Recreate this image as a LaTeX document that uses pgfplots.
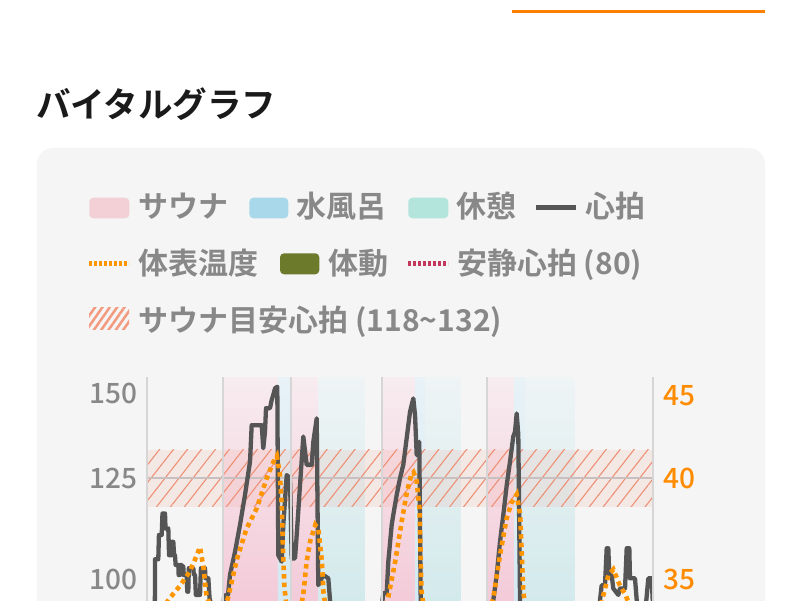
\documentclass[border=0pt]{standalone}
\usepackage{fontspec}
\usepackage{pgfplots}
\usepackage{pgfplotstable}
\pgfplotsset{compat=1.18}
\usetikzlibrary{patterns.meta}
\newfontfamily\cjk{Noto Sans CJK JP}[BoldFont={Noto Sans CJK JP Bold}]
\newfontfamily\cjkmed{Noto Sans CJK JP Medium}

\definecolor{card}{HTML}{F5F5F5}
\definecolor{topline}{HTML}{FF8000}
\definecolor{titleblack}{HTML}{1A1A1A}
\definecolor{leggray}{HTML}{888888}
\definecolor{tickgray}{HTML}{888888}
\definecolor{tickorange}{HTML}{FF8C00}
\definecolor{saunasw}{HTML}{F2D0D5}
\definecolor{watersw}{HTML}{A8D8EA}
\definecolor{restsw}{HTML}{B3E5DC}
\definecolor{olive}{HTML}{6B7B2B}
\definecolor{hrgray}{HTML}{555555}
\definecolor{temporange}{HTML}{FF9500}
\definecolor{restred}{HTML}{C2375B}
\definecolor{hatchsw}{HTML}{F3997E}
\definecolor{saunatop}{HTML}{F7ECF0}
\definecolor{saunabot}{HTML}{F0B0C5}
\definecolor{watertop}{HTML}{E8F2F7}
\definecolor{waterbot}{HTML}{C3E2EF}
\definecolor{resttop}{HTML}{EFF4F5}
\definecolor{restbot}{HTML}{BCE1E4}
\definecolor{bandfill}{HTML}{F0A090}
\definecolor{hatch}{HTML}{EE9075}
\definecolor{gridgray}{HTML}{D6D6D6}
\definecolor{line125}{HTML}{C8C0C0}

% heart rate (minutes, bpm)
\pgfplotstableread{
t hr
0 82
1.0 86
1.5 95
1.52 105
2.17 105
2.3 111
2.85 111
3.0 116.3
3.5 116.3
3.6 112.6
4.15 112.6
4.3 106
4.8 106
4.9 109.3
5.14 109.3
5.3 106
5.47 106
5.6 103.6
6.13 103.6
6.2 101.1
6.46 101.1
6.6 103.6
6.8 103.6
6.9 103.2
7.11 103.2
7.2 101.1
7.79 101.1
7.9 97
8.1 97
8.2 102.8
9.09 102.8
9.2 101.1
9.43 101.1
9.6 96.2
10.42 96.2
10.6 102.8
11.4 102.8
11.5 100.3
12.06 100.3
12.3 95.4
13.0 92
14.0 88
14.8 90
15.2 96
15.95 96.2
16.34 101.1
17.33 106.8
18.32 113.5
19.31 120.9
20.30 129.1
20.63 138.1
22.61 138.1
22.92 132.4
23.26 136.5
23.46 142.3
24.25 142.3
24.58 144.3
24.90 145.6
25.24 147.2
25.69 147.6
25.89 106
26.56 104.4
26.88 113.5
27.55 125.8
28.20 125.0
28.54 105.2
29.19 105.2
29.53 111
30.18 123.3
30.83 135.3
31.50 128.3
32.49 128.3
32.81 134
33.48 139.8
33.79 98.6
34.78 101.1
35.77 100.3
36.11 94.9
37.5 86
40 80
43 78
45.5 84
46.64 96.6
47.31 96.6
47.63 104.4
48.30 113.5
48.62 116
49.29 120.9
49.94 125
50.59 128.3
51.26 134.9
51.92 141.4
52.57 144.7
52.91 140.6
53.24 130.7
53.75 134
54.03 94.9
54.5 86
57 78
62 75
66 79
68.0 88
68.38 94.9
69.05 101.1
69.70 109.3
70.36 116
71.03 123.3
71.68 129.1
72.33 135.3
72.67 136.5
73.00 141
73.32 135.7
73.66 94.9
74.2 86
78 77
84 74
88 80
89.2 90
89.47 94.9
89.80 98.6
90.45 98.6
90.79 107.7
91.11 107.7
91.30 101
91.78 101
92.09 97.8
93.08 96.2
93.42 97.8
94.41 97.8
94.74 107.7
95.26 107.7
95.39 100.3
96.38 100.3
96.72 94.9
97.37 90
98.56 94
99.01 100.3
99.68 100.3
99.88 94.9
100 92
}\hrtable

% skin temperature (minutes, deg C)
\pgfplotstableread{
t temp
0 33.0
2.5 33.4
4.5 34.1
6.5 34.7
8.4 35.4
9.8 36.2
10.4 36.6
11.1 35.6
11.7 34.2
12.8 33.5
14.8 33.1
15.95 34.1
17.7 36.0
19.6 37.5
21.6 38.5
23.6 40.0
24.9 40.8
25.6 41.1
26.2 40.2
26.6 38.5
26.8 36.6
27.1 34.6
27.6 33.5
29.2 33.0
30.2 33.5
30.8 34.2
31.5 35.9
32.2 36.9
33.2 37.7
33.8 37.5
34.5 35.9
34.8 34.4
35.3 33.5
38.1 33.2
43 33.0
46.4 33.0
47.0 33.6
47.6 34.1
49.0 35.9
50.3 37.9
51.3 39.3
52.2 40.2
52.6 40.3
53.2 39.9
53.8 38.5
53.9 37.4
54.2 34.4
54.7 33.5
59.8 33.0
67.1 33.0
67.7 33.5
68.4 34.1
69.7 36.2
71.0 38.0
72.0 38.8
73.0 39.2
73.7 38.2
74.0 36.3
74.3 34.4
74.8 33.5
81.6 33.0
89.1 33.2
90.1 34.2
91.1 35.2
92.1 35.5
93.4 34.7
94.6 34.2
95.4 33.6
100 33.0
}\temptable

\begin{document}
\begin{tikzpicture}
\begin{scope}[x=1pt,y=1pt]
\useasboundingbox (0,0) rectangle (800,600);
\clip (0,0) rectangle (800,600);
\fill[white] (0,0) rectangle (800,600);
\draw[topline, line width=3pt] (512,588) -- (765,588);
\node[anchor=base west, inner sep=0pt, text=titleblack,
      font=\cjk\bfseries\fontsize{34.5}{40}\selectfont] at (36,482) {バイタルグラフ};
\fill[card, rounded corners=16pt] (37,-40) rectangle (765,452);

% legend
\begin{scope}[every node/.style={anchor=base west, inner sep=0pt, text=leggray,
      font=\cjk\bfseries\fontsize{30}{34}\selectfont}]
\fill[saunasw, rounded corners=4pt] (89.3,381.7) rectangle (129.3,402.3);
\node at (138.5,382) {サウナ};
\fill[watersw, rounded corners=4pt] (249.3,381.7) rectangle (288.3,402.3);
\node at (296.5,382) {水風呂};
\fill[restsw, rounded corners=4pt] (408.3,381.7) rectangle (448.3,402.3);
\node at (456.5,382) {休憩};
\draw[hrgray, line width=5pt] (536,392.3) -- (576,392.3);
\node at (585,382) {心拍};
\draw[temporange, line width=5pt, dash pattern=on 3pt off 2pt] (89,336.7) -- (129,336.7);
\node at (138,325) {体表温度};
\fill[olive, rounded corners=4pt] (280,325.7) rectangle (319.3,346.7);
\node at (328.5,325) {体動};
\draw[restred, line width=5pt, dash pattern=on 3pt off 2pt] (408,336.7) -- (448,336.7);
\node at (457,325) {安静心拍 (80)};
\begin{scope}
\clip (89,270) rectangle (129,292);
\fill[pattern={Lines[angle=55,distance=6pt,line width=2.5pt]}, pattern color=hatchsw] (85,266) rectangle (133,296);
\end{scope}
\node at (138.5,268) {サウナ目安心拍 (118\textasciitilde132)};
\end{scope}

% heart-rate axis
\begin{axis}[
  at={(147.3pt,-182pt)}, anchor=south west,
  width=506pt, height=405pt, scale only axis,
  xmin=0, xmax=100, ymin=50, ymax=150,
  axis line style={draw=none},
  xtick={0,15,28.4,46.4,67.1,100}, xticklabels={},
  xmajorgrids, grid style={draw=gridgray, line width=1.8pt},
  ytick={100,125,146}, yticklabels={100,125,150},
  major tick length=0pt, tick style={draw=none},
  yticklabel style={font=\cjkmed\fontsize{28}{30}\selectfont, text=tickgray,
    anchor=east, inner sep=0pt, xshift=-9.3pt},
  axis on top,
]
% phases
\addplot[draw=none, top color=saunatop, bottom color=saunabot] coordinates {(15,50)(15,150)(25.8,150)(25.8,50)} -- cycle;
\addplot[draw=none, top color=watertop, bottom color=waterbot] coordinates {(25.8,50)(25.8,150)(28.4,150)(28.4,50)} -- cycle;
\addplot[draw=none, top color=saunatop, bottom color=saunabot] coordinates {(28.4,50)(28.4,150)(33.8,150)(33.8,50)} -- cycle;
\addplot[draw=none, top color=resttop, bottom color=restbot] coordinates {(33.8,50)(33.8,150)(43.0,150)(43.0,50)} -- cycle;
\addplot[draw=none, top color=saunatop, bottom color=saunabot] coordinates {(46.4,50)(46.4,150)(53.0,150)(53.0,50)} -- cycle;
\addplot[draw=none, top color=watertop, bottom color=waterbot] coordinates {(53.0,50)(53.0,150)(55.0,150)(55.0,50)} -- cycle;
\addplot[draw=none, top color=resttop, bottom color=restbot] coordinates {(55.0,50)(55.0,150)(61.9,150)(61.9,50)} -- cycle;
\addplot[draw=none, top color=saunatop, bottom color=saunabot] coordinates {(67.1,50)(67.1,150)(72.6,150)(72.6,50)} -- cycle;
\addplot[draw=none, top color=watertop, bottom color=waterbot] coordinates {(72.6,50)(72.6,150)(74.6,150)(74.6,50)} -- cycle;
\addplot[draw=none, top color=resttop, bottom color=restbot] coordinates {(74.6,50)(74.6,150)(84.4,150)(84.4,50)} -- cycle;
% sauna target band 118-132
\addplot[draw=none, fill=bandfill, fill opacity=0.15] coordinates {(0,118)(100,118)(100,132)(0,132)} -- cycle;
\addplot[draw=none, pattern={Lines[angle=52,distance=11pt,line width=1.1pt]}, pattern color=hatch] coordinates {(0,118)(100,118)(100,132)(0,132)} -- cycle;
\addplot[draw=line125, line width=1.8pt] coordinates {(0,125)(100,125)};
% resting heart rate
\addplot[draw=restred, line width=2pt, dash pattern=on 3pt off 2pt] coordinates {(0,80)(100,80)};
% heart rate
\addplot[draw=hrgray, line width=4.3pt, line join=round] table[x=t, y=hr] {\hrtable};
\end{axis}

% temperature axis
\begin{axis}[
  at={(147.3pt,-182pt)}, anchor=south west,
  width=506pt, height=405pt, scale only axis,
  xmin=0, xmax=100, ymin=25, ymax=45,
  axis line style={draw=none},
  xtick=\empty, yticklabel pos=right,
  ytick={35,40,44.1}, yticklabels={35,40,45},
  major tick length=0pt, tick style={draw=none},
  yticklabel style={font=\cjkmed\fontsize{28}{30}\selectfont, text=tickorange,
    anchor=west, inner sep=0pt, xshift=9.7pt},
]
\addplot[draw=temporange, line width=4.6pt, dash pattern=on 4.5pt off 4pt] table[x=t, y=temp] {\temptable};
\end{axis}
\end{scope}
\end{tikzpicture}
\end{document}
